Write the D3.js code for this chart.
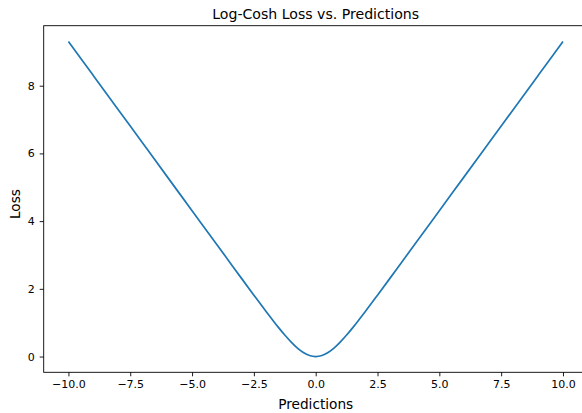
<!DOCTYPE html>
<html><head><meta charset="utf-8">
<script src="https://cdn.jsdelivr.net/npm/d3@7"></script>
<style>html,body{margin:0;padding:0;background:#fff;}svg{display:block;}</style>
</head><body>
<script>
const predictions = [-10,-9,-8,-7,-6,-5,-4,-3.5,-3,-2.5,-2,-1.75,-1.5,-1.25,-1,-0.75,-0.5,-0.25,0,0.25,0.5,0.75,1,1.25,1.5,1.75,2,2.5,3,3.5,4,5,6,7,8,9,10];
const loss = [9.307,8.307,7.307,6.307,5.307,4.307,3.307,2.808,2.309,1.814,1.325,1.087,0.855,0.636,0.434,0.258,0.120,0.031,0,0.031,0.120,0.258,0.434,0.636,0.855,1.087,1.325,1.814,2.309,2.808,3.307,4.307,5.307,6.307,7.307,8.307,9.307];
const xTicks = [-10,-7.5,-5,-2.5,0,2.5,5,7.5,10];
const yTicks = [0,2,4,6,8];
const title = "Log-Cosh Loss vs. Predictions";
const xLabel = "Predictions";
const yLabel = "Loss";

const W = 582, H = 413;
const m = {left: 43.7, top: 25.7, right: 587.7, bottom: 372.3};
const svg = d3.select("body").append("svg").attr("width", W).attr("height", H)
  .style("font-family", "DejaVu Sans, sans-serif");

const x = d3.scaleLinear().domain([-11, 11]).range([m.left, m.right]);
const yMin = 0, yMax = d3.max(loss), pad = (yMax - yMin) * 0.05;
const y = d3.scaleLinear().domain([yMin - pad, yMax + pad]).range([m.bottom, m.top]);

const fmtX = d => (d < 0 ? "\u2212" : "") + Math.abs(d).toFixed(1);

const xAxis = svg.append("g").attr("transform", `translate(0,${m.bottom})`)
  .call(d3.axisBottom(x).tickValues(xTicks).tickFormat(fmtX).tickSizeInner(4).tickSizeOuter(0).tickPadding(4));
const yAxis = svg.append("g").attr("transform", `translate(${m.left},0)`)
  .call(d3.axisLeft(y).tickValues(yTicks).tickFormat(d3.format("d")).tickSizeInner(4).tickSizeOuter(0).tickPadding(5));
[xAxis, yAxis].forEach(a => {
  a.select(".domain").remove();
  a.selectAll(".tick line").attr("stroke", "#000").attr("stroke-width", 0.9);
  a.selectAll(".tick text").attr("fill", "#000").style("font-size", "11px").style("font-family", "DejaVu Sans, sans-serif");
});

svg.append("path")
  .datum(predictions.map((p, i) => [p, loss[i]]))
  .attr("fill", "none").attr("stroke", "#1f77b4").attr("stroke-width", 1.7)
  .attr("stroke-linejoin", "round").attr("stroke-linecap", "butt")
  .attr("d", d3.line().x(d => x(d[0])).y(d => y(d[1])).curve(d3.curveMonotoneX));

svg.append("rect").attr("x", m.left).attr("y", m.top)
  .attr("width", m.right - m.left).attr("height", m.bottom - m.top)
  .attr("fill", "none").attr("stroke", "#000").attr("stroke-width", 0.9);

svg.append("text").attr("x", (m.left + m.right) / 2).attr("y", 19)
  .attr("text-anchor", "middle").style("font-size", "14.1px").text(title);
svg.append("text").attr("x", (m.left + m.right) / 2).attr("y", 408.5)
  .attr("text-anchor", "middle").style("font-size", "13.7px").text(xLabel);
svg.append("text").attr("transform", `translate(19.5,${(m.top + m.bottom) / 2 + 5}) rotate(-90)`)
  .attr("text-anchor", "middle").style("font-size", "13.7px").text(yLabel);
</script>
</body></html>
